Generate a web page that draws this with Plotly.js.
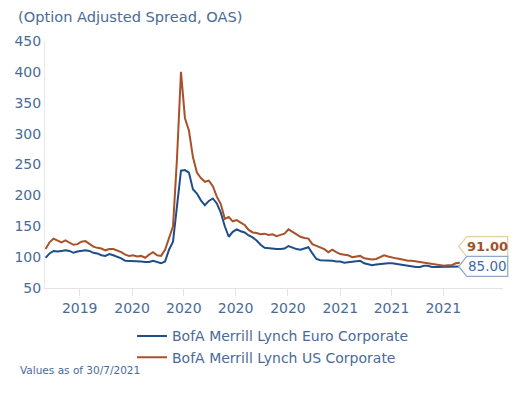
<!DOCTYPE html>
<html>
<head>
<meta charset="utf-8">
<script src="https://cdn.plot.ly/plotly-3.0.1.min.js"></script>
<style>
html,body{margin:0;padding:0;background:#fff;}
#chart{width:530px;height:398px;}
</style>
</head>
<body>
<div id="chart"></div>
<script>
// Weekly observations (Fridays) starting 2019-08-02, ending 2021-07-30
var startDate = '2019-08-02';
var euroCorporate = [
 99,106,110,109,110,111,110,107,109,110,111,110,107,106,103,102,105,103,101,98,
 94,94,94,94,93,92,92,94,92,90,93,112,125,180,240,241,237,210,203,192,
 184,191,195,187,172,150,133,141,145,142,140,135,132,127,120,115,114,113,113,113,
 114,118,115,113,112,114,116,106,97,95,95,95,94,93,93,91,92,92,93,94,
 90,88,87,88,89,90,90,90,89,88,87,85,85,84,84,86,86,84,84,84,
 84,84,84,84,85
];
var usCorporate = [
 113,124,130,127,124,127,124,120,121,125,126,121,117,115,114,111,113,113,111,108,
 104,102,103,101,102,99,104,108,103,102,112,130,150,260,400,325,305,262,237,228,
 222,224,215,198,186,162,165,158,160,156,152,144,140,139,137,138,136,137,134,136,
 138,145,141,137,133,131,130,121,118,116,113,108,112,108,105,104,103,100,101,102,
 98,97,96,97,100,103,101,99,98,97,95,94,94,93,92,91,91,90,89,88,
 86,87,87,90,91
];
var seriesNames = ['BofA Merrill Lynch Euro Corporate', 'BofA Merrill Lynch US Corporate'];
var seriesColors = ['#1f4e86', '#a8512b'];
var tickDates = ['2019-10-01','2020-01-01','2020-04-01','2020-07-01','2020-10-01','2021-01-01','2021-04-01','2021-07-01'];
var xRange = ['2019-08-01', '2021-10-14'];
var yRange = [50, 450];
var titleText = '(Option Adjusted Spread, OAS)';
var footText = 'Values as of 30/7/2021';

function weeklyDates(start, n) {
  var out = [];
  var d0 = new Date(start + 'T00:00:00Z');
  for (var i = 0; i < n; i++) {
    var d = new Date(d0.getTime() + i * 7 * 86400000);
    out.push(d.toISOString().slice(0, 10));
  }
  return out;
}
var dates = weeklyDates(startDate, euroCorporate.length);

var textColor = '#4a6b96';
var fontFam = 'DejaVu Sans, sans-serif';

var traces = [
  {x: dates, y: euroCorporate, name: seriesNames[0], type: 'scatter', mode: 'lines',
   line: {color: seriesColors[0], width: 2}},
  {x: dates, y: usCorporate, name: seriesNames[1], type: 'scatter', mode: 'lines',
   line: {color: seriesColors[1], width: 2}}
];

// paper positions of the last points, computed through the axis scales
function t(s){ return new Date(s + 'T00:00:00Z').getTime(); }
var lastDate = dates[dates.length - 1];
var xp = (t(lastDate) - t(xRange[0])) / (t(xRange[1]) - t(xRange[0]));
function yp(v){ return (v - yRange[0]) / (yRange[1] - yRange[0]); }
var lastEuro = euroCorporate[euroCorporate.length - 1];
var lastUs = usCorporate[usCorporate.length - 1];

function tagPath(dy){
  return 'M -1,' + dy + ' L 7,' + (dy + 10) + ' L 48,' + (dy + 10) + ' L 48,' + (dy - 10) + ' L 7,' + (dy - 10) + ' Z';
}

var layout = {
  width: 530, height: 398,
  margin: {l: 45, r: 27, t: 41, b: 110},
  paper_bgcolor: '#fff', plot_bgcolor: '#fff',
  font: {family: fontFam, color: textColor, size: 14},
  title: {text: titleText, x: 18/530, xanchor: 'left', xref: 'container',
          y: 1 - 17/398, yanchor: 'middle', yref: 'container',
          font: {family: fontFam, size: 14.6, color: textColor}},
  showlegend: true,
  legend: {orientation: 'v', x: 0.19, xanchor: 'left', y: -0.131, yanchor: 'top',
           font: {family: fontFam, size: 14, color: textColor}, tracegroupgap: 0,
           itemwidth: 30, bgcolor: 'rgba(0,0,0,0)'},
  xaxis: {type: 'date', range: xRange, tickvals: tickDates, tickformat: '%Y',
          showgrid: false, zeroline: false, showline: true, linecolor: '#e3e3e3', linewidth: 1,
          ticks: 'outside', ticklen: 7, tickcolor: '#e3e3e3', tickwidth: 1,
          tickfont: {family: fontFam, size: 14, color: textColor}},
  yaxis: {range: yRange, dtick: 50, tick0: 50, showgrid: false, zeroline: false,
          showline: true, linecolor: '#e8e8e8', linewidth: 1, ticks: '',
          tickfont: {family: fontFam, size: 14, color: textColor}},
  shapes: [
    {type: 'path', xref: 'paper', yref: 'paper', xsizemode: 'pixel', ysizemode: 'pixel',
     xanchor: xp, yanchor: yp(lastUs), path: tagPath(16),
     fillcolor: '#ffffff', line: {color: '#e2cfa6', width: 1.2}, layer: 'above'},
    {type: 'path', xref: 'paper', yref: 'paper', xsizemode: 'pixel', ysizemode: 'pixel',
     xanchor: xp, yanchor: yp(lastEuro), path: tagPath(0),
     fillcolor: '#ffffff', line: {color: '#8fa9c8', width: 1.2}, layer: 'above'}
  ],
  annotations: [
    {xref: 'paper', yref: 'paper', x: xp, y: yp(lastUs), xshift: 28, yshift: 16,
     text: '<b>' + lastUs.toFixed(2) + '</b>', showarrow: false, xanchor: 'center', yanchor: 'middle',
     font: {family: fontFam, size: 13, color: '#a0502a'}},
    {xref: 'paper', yref: 'paper', x: xp, y: yp(lastEuro), xshift: 28, yshift: 0,
     text: lastEuro.toFixed(2), showarrow: false, xanchor: 'center', yanchor: 'middle',
     font: {family: fontFam, size: 13.5, color: '#3d6ba3'}},
    {xref: 'paper', yref: 'paper', x: (18 - 45) / 458, y: (288 - 370) / 247,
     text: footText, showarrow: false, xanchor: 'left', yanchor: 'middle',
     font: {family: fontFam, size: 10.5, color: textColor}}
  ]
};

Plotly.newPlot('chart', traces, layout, {staticPlot: true, displayModeBar: false});
</script>
</body>
</html>
